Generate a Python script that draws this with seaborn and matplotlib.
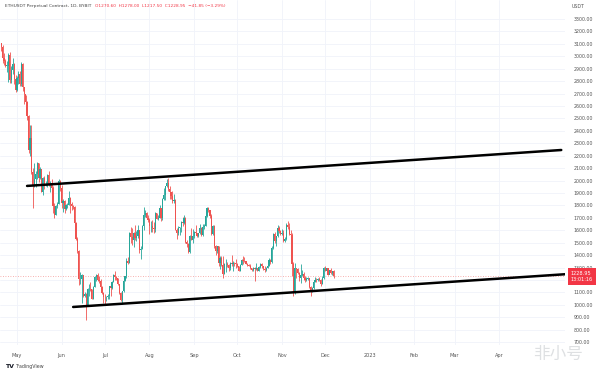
import numpy as np
import pandas as pd
import matplotlib
matplotlib.use("Agg")
import matplotlib.pyplot as plt
import matplotlib.dates as mdates
import matplotlib.transforms as mtransforms
import seaborn as sns

# ---------------- data (ETHUSDT daily) ----------------
start_date = "2022-04-20"
first_open = 3103

closes = [
    # Apr 20-30
    3077, 2986, 2965, 2923, 2923, 3010, 2808, 2888, 2939, 2817, 2729,
    # May
    2827, 2857, 2780, 2940, 2749, 2695, 2636, 2518, 2245, 2343, 2072, 1962, 2014, 2055, 2145, 2023,
    2090, 1912, 2018, 1961, 1975, 2043, 1972, 1978, 1943, 1792, 1724, 1792, 1812, 1996, 1942,
    # Jun
    1823, 1834, 1775, 1802, 1806, 1859, 1814, 1793, 1790, 1661, 1529, 1435, 1207, 1209, 1237, 1068,
    1086, 995, 1127, 1128, 1125, 1051, 1144, 1225, 1243, 1200, 1194, 1145, 1099, 1067,
    # Jul
    1060, 1067, 1074, 1150, 1134, 1187, 1238, 1222, 1216, 1169, 1097, 1039, 1113, 1192, 1233, 1354,
    1339, 1582, 1542, 1520, 1576, 1535, 1551, 1600, 1440, 1449, 1636, 1725, 1738, 1697, 1679,
    # Aug
    1631, 1634, 1618, 1608, 1736, 1691, 1701, 1776, 1702, 1853, 1881, 1957, 1981, 1935, 1905, 1877,
    1834, 1847, 1606, 1576, 1619, 1625, 1663, 1657, 1699, 1508, 1490, 1425, 1553, 1524, 1553,
    # Sep
    1587, 1577, 1557, 1577, 1617, 1561, 1629, 1636, 1718, 1776, 1761, 1715, 1573, 1637, 1472, 1433,
    1470, 1336, 1376, 1324, 1252, 1327, 1328, 1317, 1294, 1335, 1329, 1337, 1336, 1328,
    # Oct
    1311, 1276, 1324, 1362, 1352, 1351, 1331, 1321, 1316, 1293, 1280, 1295, 1289, 1297, 1275, 1306,
    1330, 1311, 1285, 1282, 1300, 1314, 1364, 1345, 1460, 1567, 1514, 1556, 1622, 1594, 1572,
    # Nov
    1579, 1517, 1530, 1646, 1626, 1571, 1566, 1332, 1098, 1298, 1287, 1257, 1219, 1243, 1252, 1216,
    1201, 1212, 1218, 1141, 1108, 1135, 1184, 1203, 1198, 1206, 1196, 1170, 1217, 1296,
    # Dec 1-7
    1275, 1294, 1241, 1279, 1257, 1270.6, 1228.95,
]

highs = [
    3110, 3090, 3030, 2980, 2960, 3030, 3035, 2925, 2985, 2950, 2850,
    2840, 2880, 2885, 2955, 2950, 2750, 2690, 2640, 2525, 2450, 2450, 2100, 2140, 2080, 2150, 2145,
    2110, 2095, 2030, 2040, 2000, 2050, 2075, 2000, 2010, 1960, 1820, 1800, 1830, 2010, 2005,
    1965, 1850, 1840, 1810, 1820, 1915, 1865, 1830, 1805, 1795, 1670, 1545, 1440, 1265, 1250, 1240,
    1100, 1095, 1135, 1170, 1180, 1130, 1150, 1230, 1250, 1255, 1235, 1205, 1150, 1105,
    1085, 1075, 1085, 1155, 1165, 1195, 1245, 1275, 1230, 1220, 1170, 1100, 1115, 1200, 1235, 1375,
    1385, 1590, 1630, 1620, 1590, 1645, 1595, 1640, 1600, 1470, 1645, 1785, 1765, 1750, 1725,
    1695, 1675, 1680, 1665, 1745, 1740, 1720, 1800, 1780, 1860, 1940, 1960, 2010, 2020, 1960, 1905,
    1920, 1890, 1850, 1620, 1635, 1630, 1675, 1705, 1720, 1710, 1525, 1500, 1560, 1620, 1610,
    1595, 1645, 1580, 1580, 1650, 1630, 1650, 1650, 1730, 1785, 1790, 1765, 1735, 1640, 1640, 1480,
    1475, 1470, 1395, 1395, 1395, 1340, 1365, 1345, 1325, 1345, 1400, 1350, 1345, 1365,
    1335, 1315, 1330, 1365, 1390, 1385, 1355, 1340, 1330, 1330, 1295, 1305, 1305, 1340, 1300, 1312,
    1340, 1335, 1315, 1315, 1305, 1320, 1380, 1370, 1475, 1575, 1590, 1555, 1640, 1635, 1600,
    1610, 1600, 1545, 1660, 1675, 1655, 1600, 1580, 1345, 1340, 1300, 1300, 1265, 1325, 1280, 1265,
    1230, 1225, 1225, 1215, 1150, 1140, 1190, 1225, 1215, 1220, 1225, 1210, 1230, 1305,
    1310, 1295, 1300, 1280, 1300, 1275, 1278,
]

lows = [
    3040, 2950, 2930, 2910, 2875, 2790, 2785, 2785, 2860, 2780, 2715,
    2720, 2780, 2765, 2760, 2720, 2620, 2580, 2490, 2220, 2200, 2050, 1780, 1950, 1950, 2010, 1990,
    2015, 1905, 1880, 1930, 1955, 1950, 1955, 1910, 1935, 1740, 1700, 1720, 1780, 1810, 1920,
    1780, 1750, 1740, 1760, 1780, 1800, 1740, 1765, 1770, 1650, 1520, 1420, 1160, 1170, 1015, 1060,
    1065, 880, 990, 1070, 1110, 1045, 1045, 1140, 1195, 1195, 1175, 1140, 1090, 1015,
    1000, 1035, 1045, 1045, 1075, 1125, 1180, 1200, 1200, 1160, 1085, 1030, 1010, 1100, 1190, 1215,
    1330, 1335, 1500, 1480, 1465, 1525, 1510, 1540, 1420, 1370, 1450, 1600, 1705, 1690, 1665,
    1570, 1590, 1590, 1575, 1590, 1690, 1680, 1695, 1675, 1685, 1840, 1845, 1950, 1920, 1855, 1850,
    1820, 1820, 1600, 1530, 1560, 1560, 1585, 1635, 1650, 1495, 1465, 1420, 1420, 1520, 1500,
    1535, 1570, 1545, 1545, 1570, 1555, 1555, 1610, 1635, 1705, 1745, 1700, 1560, 1560, 1460, 1405,
    1420, 1315, 1285, 1315, 1220, 1245, 1265, 1305, 1270, 1280, 1310, 1270, 1310, 1300,
    1305, 1275, 1270, 1320, 1330, 1345, 1325, 1315, 1310, 1285, 1275, 1270, 1190, 1280, 1270, 1275,
    1300, 1300, 1280, 1265, 1270, 1295, 1315, 1330, 1340, 1450, 1500, 1475, 1550, 1575, 1565,
    1560, 1505, 1505, 1525, 1610, 1565, 1555, 1230, 1075, 1090, 1220, 1245, 1195, 1175, 1235, 1200,
    1180, 1195, 1200, 1135, 1075, 1100, 1130, 1180, 1180, 1195, 1190, 1150, 1165, 1210,
    1270, 1270, 1240, 1245, 1250, 1242, 1217.5,
]

# trend channel drawn on the chart
upper_dates = ["2022-05-08", "2023-05-14"]
upper_prices = [1957, 2246]
lower_dates = ["2022-06-09", "2023-05-20"]
lower_prices = [983, 1249]

last_price = 1228.95
month_labels = ["May", "Jun", "Jul", "Aug", "Sep", "Oct", "Nov", "Dec", "2023", "Feb", "Mar", "Apr"]
price_ticks = list(range(700, 3400, 100))

# ---------------- build table ----------------
df = pd.DataFrame({
    "date": pd.date_range(start_date, periods=len(closes), freq="D"),
    "close": closes,
    "high": highs,
    "low": lows,
})
df["open"] = [first_open] + closes[:-1]
df["x"] = mdates.date2num(df["date"])
df["up"] = df["close"] >= df["open"]

up_color = "#26a69a"
down_color = "#ef5350"

sns.set_theme(style="white")
plt.rcParams["font.family"] = ["DejaVu Sans", "Noto Sans CJK SC"]

fig = plt.figure(figsize=(6, 3.73), dpi=100)
ax = fig.add_axes([0, 1 - 345 / 373, 565 / 600, 345 / 373])

# grid
may1 = mdates.date2num(pd.Timestamp("2022-05-01"))
month_ticks = mdates.date2num(pd.date_range("2022-05-01", periods=12, freq="MS"))
for p in price_ticks:
    ax.axhline(p, color="#f0f3fa", lw=0.6, zorder=0)
for m in month_ticks:
    ax.axvline(m, color="#f0f3fa", lw=0.6, zorder=0)

# candles
colors = np.where(df["up"], up_color, down_color)
ax.vlines(df["x"], df["low"], df["high"], colors=colors, lw=0.6, zorder=2)
body_bottom = np.minimum(df["open"], df["close"])
body_height = np.maximum(np.abs(df["close"] - df["open"]), 3)
ax.bar(df["x"], body_height, bottom=body_bottom, width=0.8, color=colors,
       linewidth=0, zorder=3)

# last price line
ax.axhline(last_price, color=down_color, lw=0.6, ls=(0, (1, 2)), alpha=0.6, zorder=1)

# channel lines
sns.lineplot(x=mdates.date2num(pd.to_datetime(upper_dates)), y=upper_prices,
             color="black", lw=1.8, ax=ax, zorder=4)
sns.lineplot(x=mdates.date2num(pd.to_datetime(lower_dates)), y=lower_prices,
             color="black", lw=1.8, ax=ax, zorder=4)

ax.set_xlim(may1 - 11.8, may1 + 380.6)
ax.set_ylim(677, 3453)

ax.set_xticks(month_ticks)
ax.set_xticklabels(month_labels)
ax.yaxis.tick_right()
ax.set_yticks(price_ticks)
# the 1200 label sits under the last-price box
ax.set_yticklabels(["" if p == 1200 else f"{p:.2f}" for p in price_ticks])
ax.tick_params(axis="both", length=0, labelsize=3.4, colors="#555555")
ax.tick_params(axis="x", pad=6, labelsize=3.6)
ax.tick_params(axis="y", pad=6)
ax.set_xlabel("")
ax.set_ylabel("")
for s in ax.spines.values():
    s.set_visible(False)

# price label box on the axis
trans = mtransforms.blended_transform_factory(ax.transAxes, ax.transData)
ax.text(1.01, last_price, "1228.95\n13:01:16", transform=trans, ha="left", va="center",
        fontsize=3.6, color="white", linespacing=1.2, clip_on=False, zorder=5,
        bbox=dict(boxstyle="square,pad=0.6", fc="#f23645", ec="none"))

# header / captions
fig.text(0.008, 0.988, "ETHUSDT Perpetual Contract, 1D, BYBIT", fontsize=3.2,
         color="#444444", va="top", ha="left")
fig.text(0.158, 0.988, "O1270.60  H1278.00  L1217.50  C1228.95  \u221241.85 (\u22123.29%)",
         fontsize=3.1, color="#f23645", va="top", ha="left")
fig.text(0.963, 0.988, "USDT", fontsize=3.4, color="#555555", va="top", ha="center")
fig.text(0.008, 0.018, "TV", fontsize=4.5, fontweight="bold", color="#131722", va="center")
fig.text(0.027, 0.018, "TradingView", fontsize=3.4, color="#444444", va="center")
fig.text(0.93, 0.05, "非小号", fontsize=12, color="#c8ccd0", alpha=0.6,
         family=["Noto Sans CJK SC", "DejaVu Sans"], ha="center", va="center")

fig.savefig("out.png", dpi=100, facecolor="white")
